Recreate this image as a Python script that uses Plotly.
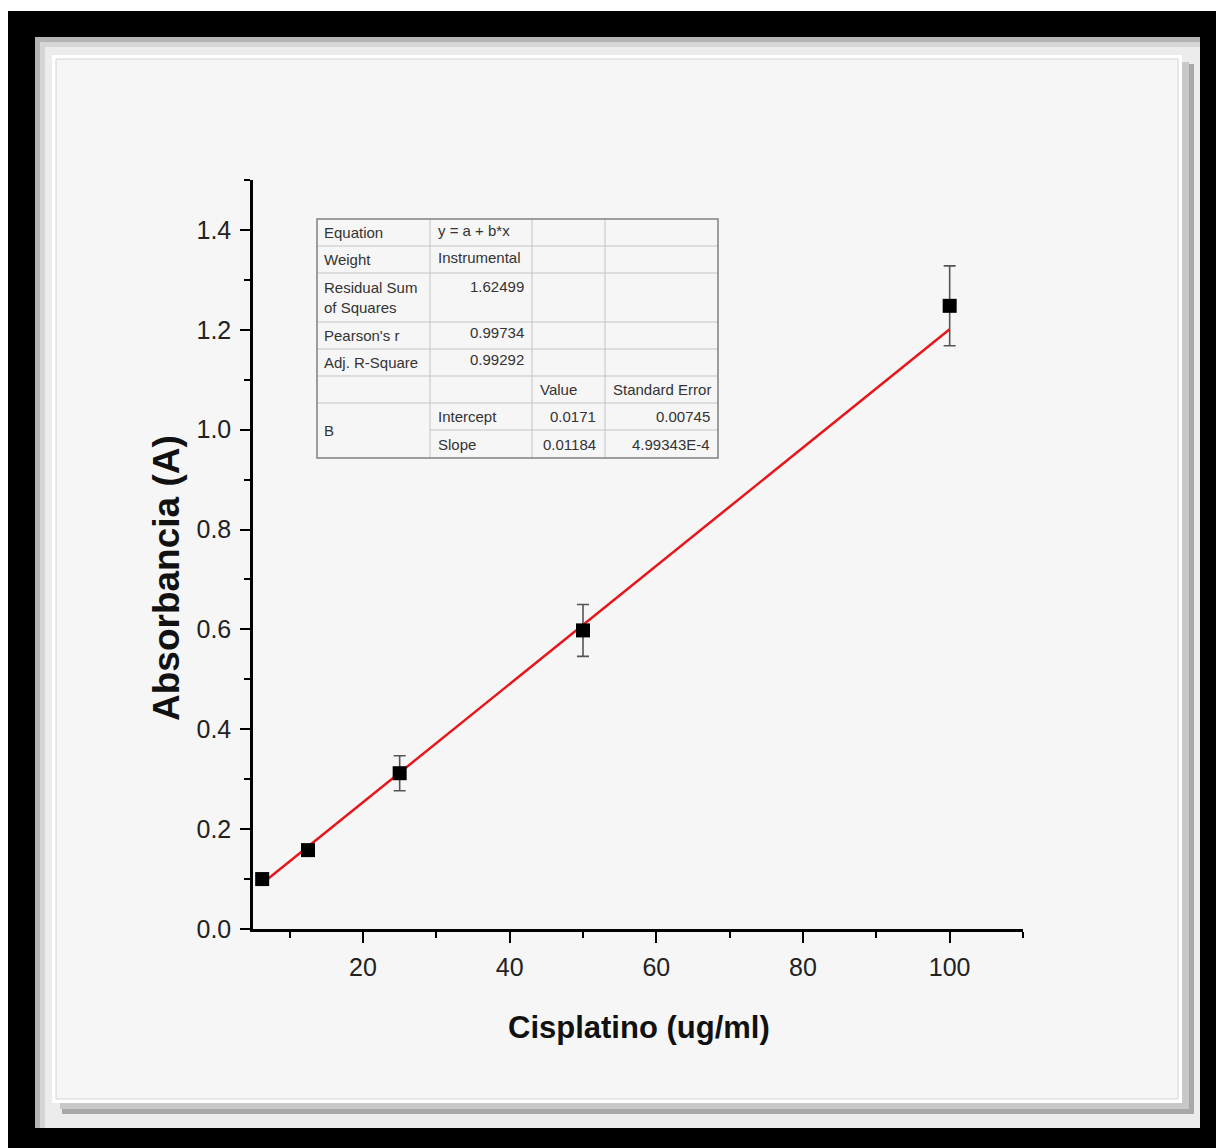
import plotly.graph_objects as go

# ---------------- data ----------------
conc = [6.25, 12.5, 25, 50, 100]
absorb = [0.100, 0.158, 0.312, 0.598, 1.248]
absorb_err = [0.008, 0.010, 0.035, 0.052, 0.080]

fit_x = [6.25, 100]
fit_y = [0.091, 1.201]

x_ticks = [20, 40, 60, 80, 100]
x_minor = [10, 30, 50, 70, 90, 110]
y_ticks = [0.0, 0.2, 0.4, 0.6, 0.8, 1.0, 1.2, 1.4]
y_minor = [0.1, 0.3, 0.5, 0.7, 0.9, 1.1, 1.3, 1.5]

x_title = "Cisplatino (ug/ml)"
y_title = "Absorbancia (A)"

table_rows = [
    ["Equation", "y = a + b*x", "", ""],
    ["Weight", "Instrumental", "", ""],
    ["Residual Sum<br>of Squares", "1.62499", "", ""],
    ["Pearson's r", "0.99734", "", ""],
    ["Adj. R-Square", "0.99292", "", ""],
    ["", "", "Value", "Standard Error"],
    ["B", "Intercept", "0.0171", "0.00745"],
    ["", "Slope", "0.01184", "4.99343E-4"],
]

# ---------------- geometry (image pixel coords) ----------------
W, H = 1216, 1148
L, R, T, B = 253, 1023, 180, 929     # plot area in image pixels

def px(x):
    return (x - L) / (R - L)

def py(y):
    return (B - y) / (B - T)

FONT = "Liberation Sans, Arial, sans-serif"

fig = go.Figure()

fig.add_trace(go.Scatter(
    x=fit_x, y=fit_y, mode="lines",
    line=dict(color="#e8161b", width=2.5),
    showlegend=False, hoverinfo="skip",
))
fig.add_trace(go.Scatter(
    x=conc, y=absorb, mode="markers",
    marker=dict(symbol="square", size=14, color="black"),
    error_y=dict(type="data", array=absorb_err, visible=True,
                 color="#555555", thickness=1.6, width=6),
    showlegend=False,
))

shapes = []

def rect(x0, y0, x1, y1, fill, line_color=None, lw=0, layer="below"):
    shapes.append(dict(
        type="rect", xref="paper", yref="paper",
        x0=px(x0), x1=px(x1), y0=py(y1), y1=py(y0),
        fillcolor=fill,
        line=dict(color=line_color or fill, width=lw),
        layer=layer,
    ))

def hline(x0, x1, y, color, lw):
    shapes.append(dict(type="line", xref="paper", yref="paper",
                       x0=px(x0), x1=px(x1), y0=py(y), y1=py(y),
                       line=dict(color=color, width=lw), layer="above"))

def vline(x, y0, y1, color, lw):
    shapes.append(dict(type="line", xref="paper", yref="paper",
                       x0=px(x), x1=px(x), y0=py(y0), y1=py(y1),
                       line=dict(color=color, width=lw), layer="above"))

# outer black frame
rect(8, 11, 1220, 1152, "black")
# light frame
rect(35, 37, 1200, 1128, "#ececec")
rect(35, 37, 1200, 42, "#b4b4b4")
rect(35, 37, 40, 1128, "#b4b4b4")
rect(40, 42, 1200, 47, "#d6d6d6")
rect(40, 42, 45, 1128, "#d6d6d6")
# shadow
rect(62, 64, 1194, 1114, "#a8a8a8")
rect(60, 62, 1189, 1109, "#c8c8c8")
# white border + inner panel
rect(52, 55, 1182, 1103, "white")
rect(56, 59, 1178, 1099, "#f6f6f6", "#d4d4d4", 1)

# ---------------- table ----------------
tx = [317, 430, 532, 605, 718]
ty = [219, 246, 273, 322, 349, 376, 403, 430, 458]
inner = "#c4c4c4"
for y in ty[1:-1]:
    if y == 430:
        hline(430, 718, y, inner, 1)
    else:
        hline(317, 718, y, inner, 1)
for x in tx[1:-1]:
    vline(x, 219, 458, inner, 1)
shapes.append(dict(type="rect", xref="paper", yref="paper",
                   x0=px(317), x1=px(718), y0=py(458), y1=py(219),
                   line=dict(color="#808080", width=1.5), layer="above"))

annotations = []
TCOL = "#333333"
TSIZE = 15

def txt(x, y, s, anchor="left", yanchor="middle", size=TSIZE, **kw):
    annotations.append(dict(
        x=px(x), y=py(y), xref="paper", yref="paper", text=s,
        showarrow=False, xanchor=anchor, yanchor=yanchor,
        font=dict(family=FONT, size=size, color=TCOL), **kw))

row_mid = [(ty[i] + ty[i + 1]) / 2 for i in range(len(ty) - 1)]
for i, row in enumerate(table_rows):
    c0, c1, c2, c3 = row
    ym = row_mid[i]
    if i == 2:
        txt(322, ym, c0, align="left")
        txt(526, ty[2] + 13, c1, anchor="right")
        continue
    if c0 == "B":
        txt(322, ty[7], c0)
    elif c0:
        txt(322, ym, c0)
    if c1:
        if i < 2 or i >= 6:
            txt(436, ym - 2 if i < 2 else ym, c1)
        else:
            txt(526, ym - 3, c1, anchor="right")
    if i == 5:
        txt(538, ym, c2)
        txt(611, ym, c3)
    elif i >= 6:
        txt(598, ym, c2, anchor="right")
        txt(712, ym, c3, anchor="right")

# axis titles
annotations.append(dict(
    x=px(166), y=py(578), xref="paper", yref="paper", text=y_title,
    textangle=-90, showarrow=False, xanchor="center", yanchor="middle",
    font=dict(family=FONT, size=37, color="#111111", weight="bold")))
annotations.append(dict(
    x=px(639), y=py(1027), xref="paper", yref="paper", text=x_title,
    showarrow=False, xanchor="center", yanchor="middle",
    font=dict(family=FONT, size=31, color="#111111", weight="bold")))

fig.update_layout(
    width=W, height=H, autosize=False,
    margin=dict(l=L, r=W - R, t=T, b=H - B, pad=0),
    paper_bgcolor="white", plot_bgcolor="rgba(0,0,0,0)",
    template="none",
    shapes=shapes, annotations=annotations,
    font=dict(family=FONT, color="#222222"),
    xaxis=dict(
        range=[5, 110], tickvals=x_ticks, ticktext=[str(v) for v in x_ticks],
        ticks="outside", ticklen=11, tickwidth=2, tickcolor="black",
        minor=dict(tickvals=x_minor, ticks="outside", ticklen=6,
                   tickwidth=2, tickcolor="black"),
        showline=True, linecolor="black", linewidth=2.5,
        showgrid=False, zeroline=False, automargin=False,
        tickfont=dict(family=FONT, size=25, color="#222222"),
        ticklabelstandoff=3,
    ),
    yaxis=dict(
        range=[0, 1.5], tickvals=y_ticks, ticktext=[f"{v:.1f}" for v in y_ticks],
        ticks="outside", ticklen=10, tickwidth=2, tickcolor="black",
        minor=dict(tickvals=y_minor, ticks="outside", ticklen=6,
                   tickwidth=2, tickcolor="black"),
        showline=True, linecolor="black", linewidth=2.5,
        showgrid=False, zeroline=False, automargin=False,
        tickfont=dict(family=FONT, size=25, color="#222222"),
        ticklabelstandoff=4,
    ),
)

fig.write_html(
    "out.html",
    config={"displayModeBar": False},
    post_script="document.body.style.margin='0';document.body.style.overflow='hidden';",
)
